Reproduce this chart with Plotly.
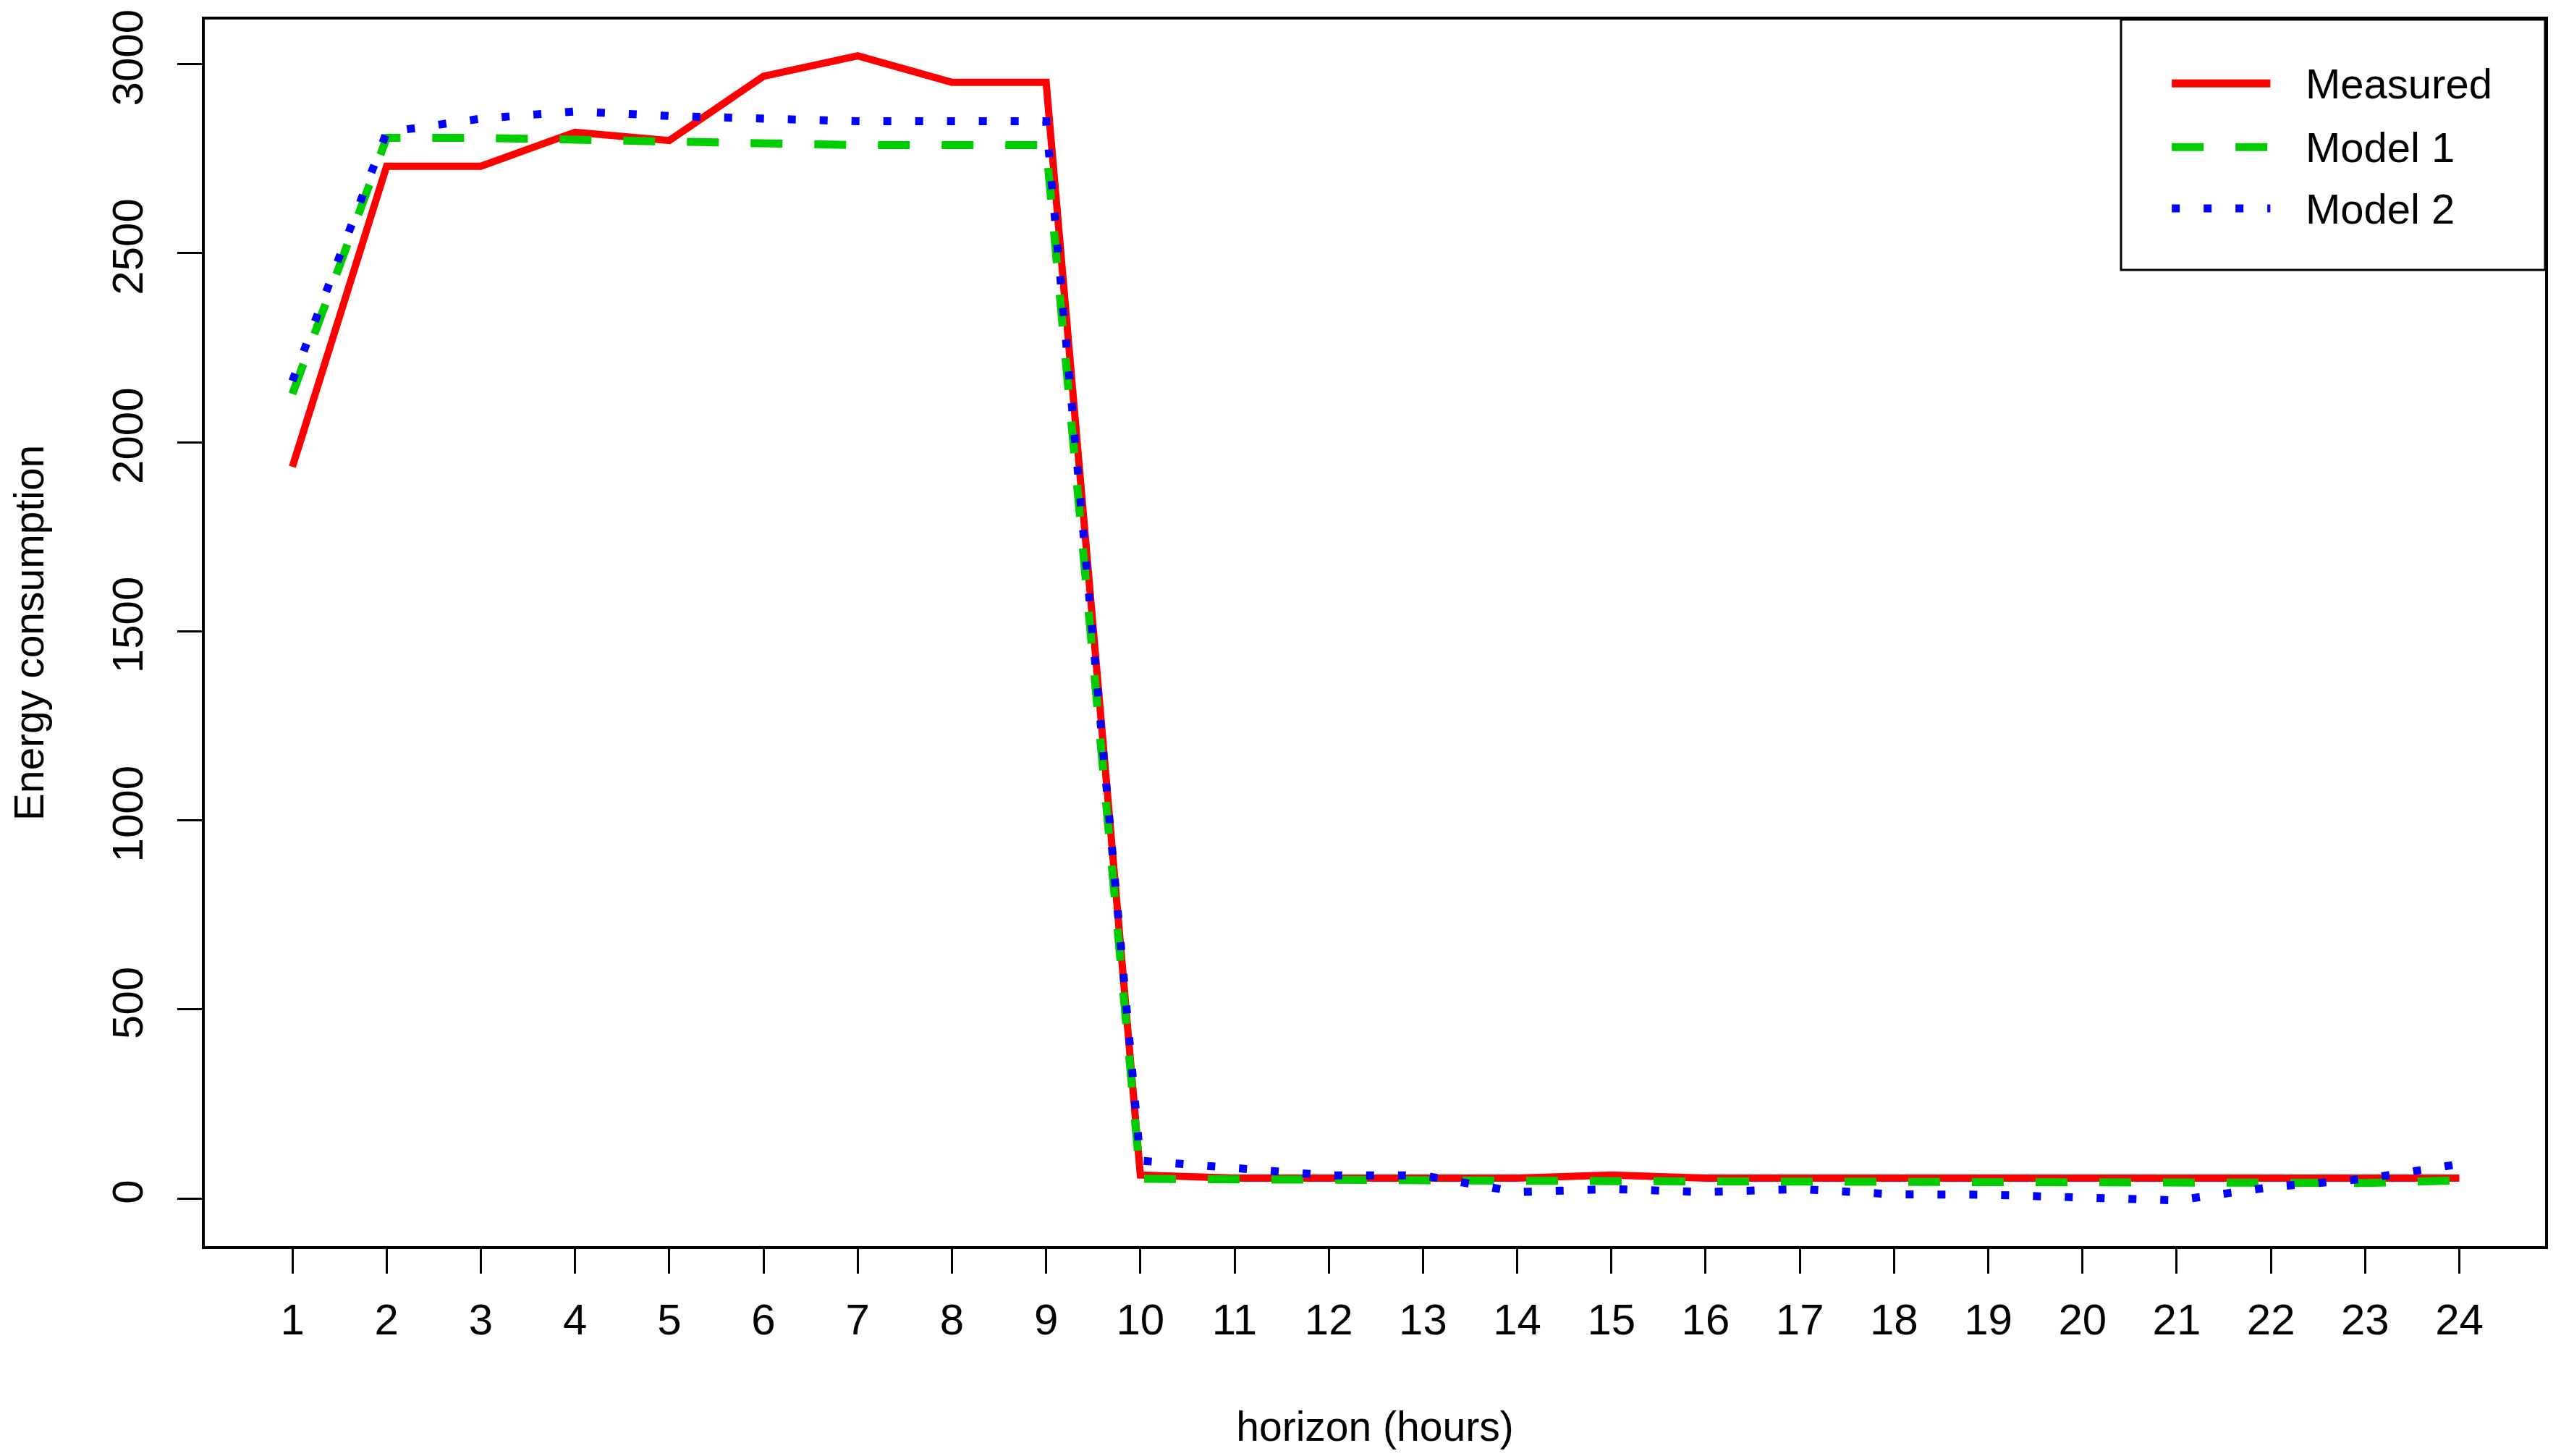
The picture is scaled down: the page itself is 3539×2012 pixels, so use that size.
import plotly.graph_objects as go

hours = list(range(1, 25))
measured = [1935, 2730, 2730, 2820, 2798, 2968, 3022, 2952, 2952, 62, 54, 54, 54, 54, 62, 54,
            54, 54, 54, 54, 54, 54, 54, 54]
model1 = [2128, 2805, 2805, 2800, 2793, 2786, 2786, 2786, 2786, 52, 52, 52, 50, 47, 46, 46,
          46, 46, 46, 41, 41, 41, 41, 48]
model2 = [2162, 2820, 2856, 2875, 2863, 2856, 2849, 2849, 2849, 100, 80, 61, 61, 17, 25, 17,
          25, 11, 10, 3, -5, 30, 52, 91]
y_ticks = [0, 500, 1000, 1500, 2000, 2500, 3000]

series = [
    ("Measured", measured, "#ff0000", "solid"),
    ("Model 1", model1, "#00cd00", "44px,44px"),
    ("Model 2", model2, "#0000ff", "11px,33px"),
]

_FONT = dict(family="Liberation Sans, Arial, sans-serif", color="black", size=60)
_LEG_FONT = dict(_FONT, size=58)
_TITLE_FONT = dict(_FONT, size=57)
_AXIS = dict(
    showline=True, linecolor="black", linewidth=4, mirror=True,
    showgrid=False, zeroline=False, automargin=False,
    ticks="outside", ticklen=34, tickwidth=3, tickcolor="black",
    tickfont=_FONT,
)

fig = go.Figure()
for name, vals, color, dash in series:
    fig.add_trace(go.Scatter(
        x=hours, y=vals, name=name, mode="lines", showlegend=False,
        line=dict(color=color, width=10 if dash == "solid" else 11, dash=dash),
    ))

# legend drawn like R's legend() box
leg_rows = [0.948, 0.896, 0.846]
fig.add_shape(type="rect", xref="x domain", yref="y domain", x0=0.8188, x1=1.0, y0=0.7958, y1=1.0,
              line=dict(color="black", width=3), fillcolor="white", layer="below")
for (name, _, color, dash), yy in zip(series, leg_rows):
    fig.add_shape(type="line", xref="x domain", yref="y domain", x0=0.8405, x1=0.8826, y0=yy, y1=yy,
                  line=dict(color=color, width=11, dash=dash))
    fig.add_annotation(text=name, xref="x domain", yref="y domain", x=0.897, y=yy,
                       xanchor="left", yanchor="middle", showarrow=False, font=_LEG_FONT)

# page body has an 8px margin, so the figure is 8px smaller than the window
fig.update_layout(
    width=3523, height=1996,
    paper_bgcolor="white", plot_bgcolor="white",
    font=_FONT,
    margin=dict(l=275, r=14, t=19, b=282),
    xaxis=dict(**_AXIS, range=[0.07, 24.91], tickmode="array", tickvals=hours,
               ticklabelstandoff=12,
               title=dict(text="horizon (hours)", font=_TITLE_FONT, standoff=96)),
    yaxis=dict(**_AXIS, range=[-126, 3118], tickmode="array", tickvals=y_ticks,
               tickangle=-90, ticklabelstandoff=24,
               title=dict(text="Energy consumption", font=_TITLE_FONT, standoff=82)),
)

fig.write_html("out.html")
